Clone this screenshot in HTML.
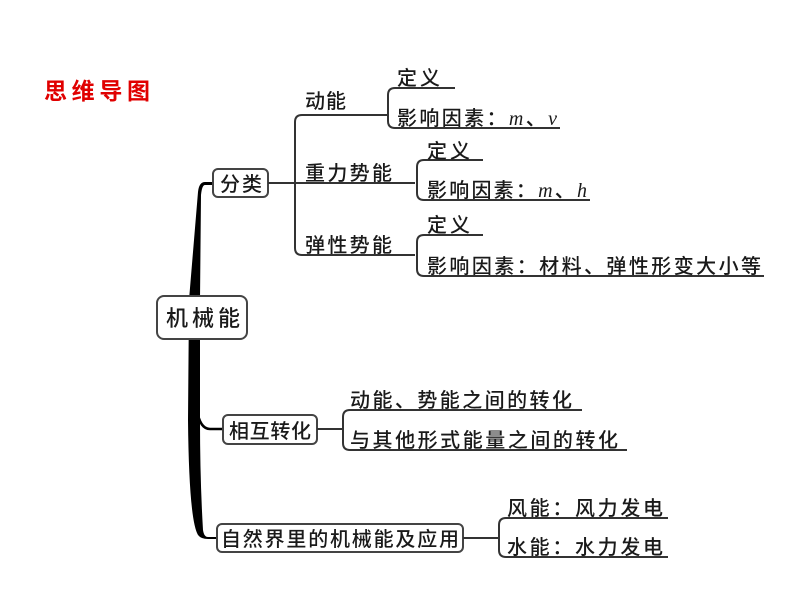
<!DOCTYPE html>
<html><head><meta charset="utf-8"><style>
html,body{margin:0;padding:0;background:#fff;}
svg{display:block;}
text{font-family:"Liberation Serif","Noto Sans CJK SC",sans-serif;fill:#1a1a1a;font-weight:500;}
</style></head><body>
<svg width="800" height="600" viewBox="0 0 800 600" xmlns="http://www.w3.org/2000/svg">
<text x="44" y="99" font-size="23" font-weight="bold" style="fill:#e00000;font-family:'Liberation Sans','Noto Sans CJK SC',sans-serif;font-weight:bold" textLength="106">思维导图</text>

<!-- trunk -->
<path d="M213,182 L205,182 Q199,182 198,192 L189,300 L188,420 Q189,520 198,535 Q201,539 208,539 L217,539 L217,537 L208,537 Q204,537 203,530 Q200,480 200,420 L200,300 L201,195 Q202,185 205,185 L213,185 Z" fill="#000"/>
<path d="M197,410 Q200,429 210,429 L223,429" stroke="#000" stroke-width="2.5" fill="none"/>

<g fill="#fff" stroke="#444" stroke-width="2">
<rect x="213" y="169" width="55" height="28" rx="5"/>
<rect x="157" y="296" width="90" height="43" rx="7"/>
<rect x="223" y="415" width="94" height="29" rx="5"/>
<rect x="217" y="524" width="246" height="28" rx="5"/>
</g>
<g font-size="20">
<text x="220" y="191" textLength="42">分类</text>
<text x="166" y="326" font-size="22" textLength="74">机械能</text>
<text x="229" y="438" textLength="82">相互转化</text>
<text x="221" y="546" textLength="238">自然界里的机械能及应用</text>
</g>

<g stroke="#333" stroke-width="2" fill="none">
<path d="M268,183 L415,183"/>
<path d="M352,115 L302,115 Q295,115 295,122 L295,248 Q295,255 302,255 L415,255"/>
<path d="M352,115 L388,115"/>
<path d="M455,88 L395,88 Q388,88 388,95 L388,121 Q388,128 395,128 L560,128"/>
<path d="M483,160 L424,160 Q417,160 417,167 L417,193 Q417,200 424,200 L590,200"/>
<path d="M483,235 L424,235 Q417,235 417,242 L417,269 Q417,276 424,276 L764,276"/>
<path d="M317,429 L343,429"/>
<path d="M582,410 L350,410 Q343,410 343,417 L343,443 Q343,450 350,450 L627,450"/>
<path d="M463,538 L499,538"/>
<path d="M668,518 L506,518 Q499,518 499,525 L499,550 Q499,557 506,557 L668,557"/>
</g>

<g font-size="20">
<text x="305" y="108" textLength="41">动能</text>
<text x="397" y="85" textLength="43">定义</text>
<text x="397" y="125" textLength="160">影响因素：<tspan font-style="italic">m</tspan>、<tspan font-style="italic">v</tspan></text>
<text x="305" y="180" textLength="87">重力势能</text>
<text x="427" y="158" textLength="43">定义</text>
<text x="427" y="197" textLength="160">影响因素：<tspan font-style="italic">m</tspan>、<tspan font-style="italic">h</tspan></text>
<text x="305" y="252" textLength="87">弹性势能</text>
<text x="427" y="232" textLength="43">定义</text>
<text x="427" y="273" textLength="334">影响因素：材料、弹性形变大小等</text>
<text x="350" y="407" textLength="222">动能、势能之间的转化</text>
<text x="350" y="447" textLength="268">与其他形式能量之间的转化</text>
<text x="507" y="515" textLength="156">风能：风力发电</text>
<text x="507" y="554" textLength="156">水能：水力发电</text>
</g>
</svg>
</body></html>
